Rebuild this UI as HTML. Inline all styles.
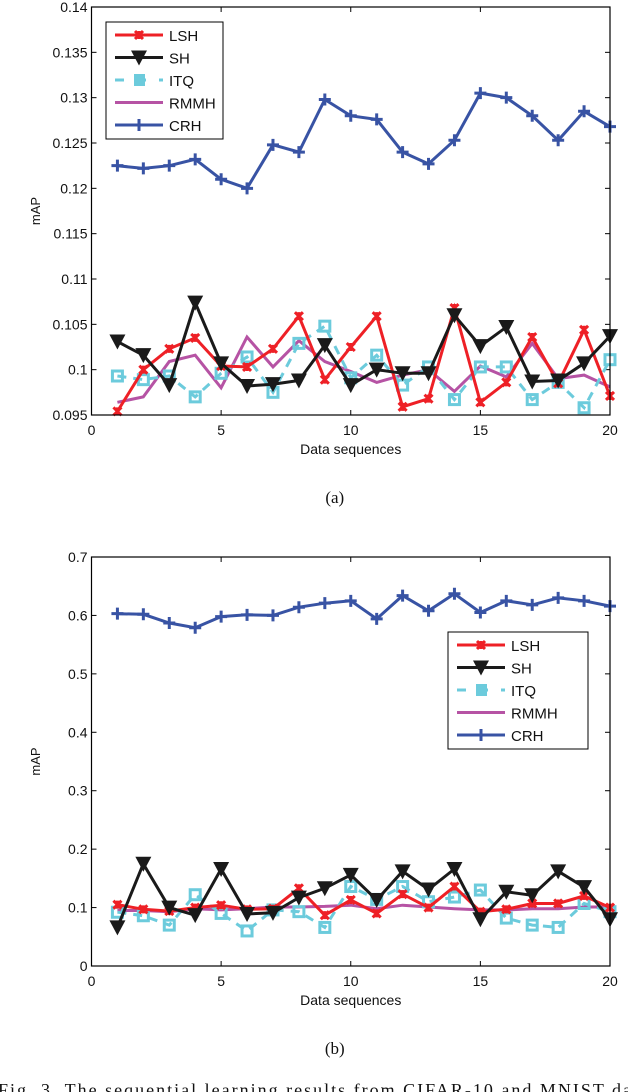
<!DOCTYPE html>
<html><head><meta charset="utf-8">
<style>
html,body{margin:0;padding:0;background:#fff;}
body{width:628px;height:1092px;overflow:hidden;position:relative;font-family:"Liberation Sans",sans-serif;}
svg{position:absolute;left:0;top:0;}
</style></head>
<body>
<svg id="fig" width="628" height="1092" viewBox="0 0 628 1092"></svg>
<script>
const xCats = [1,2,3,4,5,6,7,8,9,10,11,12,13,14,15,16,17,18,19,20];
const xTicks = [0,5,10,15,20];
// chart (a)
const aLSH  = [0.0954,0.1000,0.1023,0.1035,0.1004,0.1003,0.1023,0.1059,0.0989,0.1025,0.1059,0.0959,0.0968,0.1068,0.0964,0.0986,0.1036,0.0985,0.1044,0.0971];
const aSH   = [0.1031,0.1016,0.0983,0.1074,0.1007,0.0982,0.0984,0.0988,0.1027,0.0983,0.1000,0.0996,0.0996,0.1060,0.1026,0.1047,0.0987,0.0988,0.1007,0.1037];
const aITQ  = [0.0993,0.0989,0.0993,0.0970,0.0996,0.1014,0.0975,0.1029,0.1048,0.0991,0.1016,0.0983,0.1003,0.0967,0.1003,0.1003,0.0967,0.0986,0.0958,0.1011];
const aRMMH = [0.0964,0.0970,0.1009,0.1016,0.0980,0.1036,0.1003,0.1032,0.1009,0.0998,0.0986,0.0994,0.1000,0.0976,0.1004,0.0992,0.1029,0.0990,0.0994,0.0981];
const aCRH  = [0.1225,0.1222,0.1225,0.1232,0.1210,0.1200,0.1248,0.1240,0.1298,0.1280,0.1276,0.1240,0.1227,0.1253,0.1305,0.1300,0.1280,0.1253,0.1285,0.1268];
const aYTicks = [0.095,0.1,0.105,0.11,0.115,0.12,0.125,0.13,0.135,0.14];
const aYLabels = ["0.095","0.1","0.105","0.11","0.115","0.12","0.125","0.13","0.135","0.14"];
// chart (b)
const bLSH  = [0.105,0.097,0.094,0.100,0.104,0.097,0.098,0.133,0.087,0.113,0.090,0.123,0.100,0.136,0.093,0.097,0.107,0.107,0.120,0.100];
const bSH   = [0.066,0.175,0.100,0.087,0.166,0.089,0.091,0.117,0.133,0.156,0.113,0.162,0.131,0.166,0.080,0.127,0.121,0.162,0.135,0.080];
const bITQ  = [0.092,0.086,0.070,0.122,0.090,0.060,0.096,0.093,0.066,0.136,0.114,0.136,0.110,0.118,0.130,0.082,0.070,0.066,0.107,0.093];
const bRMMH = [0.095,0.095,0.093,0.098,0.096,0.098,0.101,0.101,0.102,0.104,0.098,0.104,0.101,0.098,0.096,0.096,0.098,0.098,0.101,0.101];
const bCRH  = [0.603,0.602,0.587,0.579,0.598,0.601,0.600,0.614,0.621,0.625,0.594,0.634,0.608,0.637,0.605,0.625,0.618,0.630,0.625,0.616];
const bYTicks = [0,0.1,0.2,0.3,0.4,0.5,0.6,0.7];
const bYLabels = ["0","0.1","0.2","0.3","0.4","0.5","0.6","0.7"];
const seriesNames = ["LSH","SH","ITQ","RMMH","CRH"];

const NS="http://www.w3.org/2000/svg";
const svg=document.getElementById('fig');
function mk(tag,attrs,parent){const e=document.createElementNS(NS,tag);for(const k in attrs)e.setAttribute(k,attrs[k]);(parent||svg).appendChild(e);return e;}
const COL={LSH:"#ee2026",SH:"#1a1a1a",ITQ:"#6ccbdc",RMMH:"#b653a4",CRH:"#3853a4"};

function marker(g,type,x,y){
  let m;
  if(type==="LSH"){
    m=mk('path',{d:`M${x-4},${y-4}L${x+4},${y+4}M${x-4},${y+4}L${x+4},${y-4}M${x},${y-4}L${x},${y+4}`,stroke:COL.LSH,'stroke-width':3,fill:'none'},g);
  }else if(type==="SH"){
    m=mk('path',{d:`M${x-8},${y-7}L${x+8},${y-7}L${x},${y+8}Z`,fill:COL.SH},g);
  }else if(type==="ITQ"){
    m=mk('rect',{x:x-5,y:y-5,width:10,height:10,fill:'none',stroke:COL.ITQ,'stroke-width':3},g);
  }else if(type==="CRH"){
    m=mk('path',{d:`M${x-6},${y}L${x+6},${y}M${x},${y-6}L${x},${y+6}`,stroke:COL.CRH,'stroke-width':3,fill:'none'},g);
  }
  if(m){}
}

function chart(id,box,ymin,ymax,yTicks,yLabels,data,legend,label,labelY){
  const g=mk('g',{});
  
  
  const X=v=>box.l+(v-0)/(20-0)*(box.r-box.l);
  const Y=v=>box.b-(v-ymin)/(ymax-ymin)*(box.b-box.t);
  yTicks.forEach((t,i)=>{
    const y=Y(t);
    mk('line',{x1:box.l,x2:box.l+5,y1:y,y2:y,stroke:'#000','stroke-width':1},g);
    mk('line',{x1:box.r-5,x2:box.r,y1:y,y2:y,stroke:'#000','stroke-width':1},g);
    const tx=mk('text',{x:box.l-4,y:y+5,'text-anchor':'end','font-size':14,fill:'#111'},g);
    tx.textContent=yLabels[i];
    
    
  });
  xTicks.forEach(t=>{
    const x=X(t);
    mk('line',{x1:x,x2:x,y1:box.b,y2:box.b-5,stroke:'#000','stroke-width':1},g);
    mk('line',{x1:x,x2:x,y1:box.t,y2:box.t+5,stroke:'#000','stroke-width':1},g);
    const tx=mk('text',{x:x,y:box.b+20,'text-anchor':'middle','font-size':14,fill:'#111'},g);
    tx.textContent=String(t);
    
    
  });
  const xt=mk('text',{x:(box.l+box.r)/2,y:box.b+39,'text-anchor':'middle','font-size':14,fill:'#111'},g);
  xt.textContent='Data sequences';
  
  
  const yt=mk('text',{x:0,y:0,'text-anchor':'middle','font-size':13,fill:'#111',transform:`translate(40,${(box.t+box.b)/2}) rotate(-90)`},g);
  yt.textContent='mAP';
  
  
  const order=["RMMH","ITQ","LSH","SH","CRH"];
  order.forEach(name=>{
    const vals=data[name];
    const pts=vals.map((v,i)=>X(xCats[i]).toFixed(1)+','+Y(v).toFixed(1)).join(' ');
    const pl=mk('polyline',{points:pts,fill:'none',stroke:COL[name],'stroke-width':3,'stroke-linejoin':'miter','stroke-dasharray':name==="ITQ"?"9,7":"none"},g);
    
    
    vals.forEach((v,i)=>marker(g,name,X(xCats[i]),Y(v)));
  });
  const fr=mk('rect',{x:box.l,y:box.t,width:box.r-box.l,height:box.b-box.t,fill:'none',stroke:'#000','stroke-width':1.2},g);
  
  
  const lg=mk('g',{},g);
  
  
  mk('rect',{x:legend.x,y:legend.y,width:legend.w,height:117,fill:'#fff',stroke:'#000','stroke-width':1},lg);
  seriesNames.forEach((n,i)=>{
    const y=legend.y+13+i*22.5;
    const e=mk('g',{},lg);
    
    
    mk('line',{x1:legend.x+9,x2:legend.x+57,y1:y,y2:y,stroke:COL[n],'stroke-width':3,'stroke-dasharray':n==="ITQ"?"9,13":"none"},e);
    if(n==="ITQ"){mk('rect',{x:legend.x+28,y:y-6,width:11,height:12,fill:COL.ITQ},e);}
    else marker(e,n,legend.x+33,y);
    const t=mk('text',{x:legend.x+63,y:y+6,'font-size':15,fill:'#111'},e);
    t.textContent=n;
  });
  const cap=mk('text',{x:(box.l+box.r)/2-16,y:labelY,'text-anchor':'middle','font-size':17,'font-family':'Liberation Serif, serif',fill:'#111'},g);
  cap.textContent=label;
  
  
}

chart('a',{l:91.5,r:610,t:7,b:415},0.095,0.14,aYTicks,aYLabels,
  {LSH:aLSH,SH:aSH,ITQ:aITQ,RMMH:aRMMH,CRH:aCRH},{x:106,y:22,w:117},'(a)',503);
chart('b',{l:91.5,r:610,t:557,b:966},0,0.7,bYTicks,bYLabels,
  {LSH:bLSH,SH:bSH,ITQ:bITQ,RMMH:bRMMH,CRH:bCRH},{x:448,y:632,w:140},'(b)',1054);

const fc=mk('text',{x:-2,y:1096,'font-size':18,'font-family':'Liberation Serif, serif',fill:'#111',textLength:640,lengthAdjust:'spacing'});
fc.textContent='Fig. 3. The sequential learning results from CIFAR-10 and MNIST dat';


</script>
</body></html>
